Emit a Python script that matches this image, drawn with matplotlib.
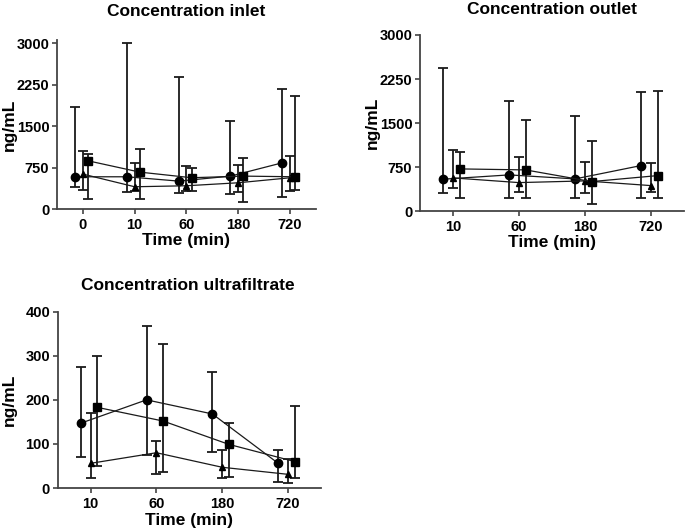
import numpy as np
import matplotlib
matplotlib.use("Agg")
import matplotlib.pyplot as plt

plt.rcParams['font.family'] = ['Liberation Sans', 'DejaVu Sans']
plt.rcParams['font.weight'] = 'bold'

# time points (min)
times_inlet = ["0", "10", "60", "180", "720"]
times_other = ["10", "60", "180", "720"]

# inlet: value, lower end, upper end of the bar
inlet_circle = [587, 587, 509, 599, 839]
inlet_circle_lo = [407, 317, 288, 270, 227]
inlet_circle_hi = [1847, 2994, 2381, 1589, 2165]
inlet_triangle = [635, 407, 425, 479, 569]
inlet_triangle_lo = [353, 330, 330, 306, 329]
inlet_triangle_hi = [1058, 828, 790, 797, 965]
inlet_square = [875, 671, 570, 599, 587]
inlet_square_lo = [194, 185, 330, 137, 347]
inlet_square_hi = [995, 1080, 740, 918, 2045]

# outlet
outlet_circle = [546, 619, 551, 778]
outlet_circle_lo = [307, 222, 222, 232]
outlet_circle_hi = [2438, 1869, 1613, 2029]
outlet_triangle = [568, 488, 517, 437]
outlet_triangle_lo = [392, 334, 310, 334]
outlet_triangle_hi = [1040, 931, 846, 818]
outlet_square = [721, 704, 505, 607]
outlet_square_lo = [222, 222, 119, 232]
outlet_square_hi = [1003, 1545, 1199, 2051]

# ultrafiltrate
ultra_circle = [147, 200, 168, 56]
ultra_circle_lo = [71, 75, 81, 14]
ultra_circle_hi = [275, 368, 264, 86]
ultra_triangle = [56, 80, 47, 31]
ultra_triangle_lo = [23, 31, 23, 11]
ultra_triangle_hi = [171, 107, 86, 65]
ultra_square = [183, 152, 99, 60]
ultra_square_lo = [51, 37, 25, 22]
ultra_square_hi = [300, 327, 147, 187]

W, H = 685, 529


def draw_series(ax, vals, lo, hi, marker, offset, ms):
    vals = np.array(vals, dtype=float)
    x = np.arange(len(vals)) + offset
    yerr = [vals - np.array(lo), np.array(hi) - vals]
    ax.errorbar(x, vals, yerr=yerr, fmt='none', ecolor='#1a1a1a',
                elinewidth=1.3, capsize=3.5, capthick=1.3, zorder=2)
    ax.plot(x, vals, color='#1a1a1a', linewidth=0.9, marker=marker,
            markersize=ms, markerfacecolor='black', markeredgecolor='black',
            zorder=3)


def style_axis(ax, labels, yticks, ymax, title, title_xy, xlab_y, ylab_x):
    ax.set_xlim(-0.5, len(labels) - 0.5)
    ax.set_ylim(0, ymax)
    ax.set_xticks(range(len(labels)))
    ax.set_xticklabels(labels)
    ax.set_yticks(yticks)
    for s in ['top', 'right']:
        ax.spines[s].set_visible(False)
    for s in ['left', 'bottom']:
        ax.spines[s].set_color('#444444')
        ax.spines[s].set_linewidth(1.3)
    ax.tick_params(axis='both', direction='out', length=3.5, width=1.2,
                   color='#444444', pad=2, labelsize=10.5)
    ax.tick_params(axis='x', pad=3)
    for t in ax.get_xticklabels() + ax.get_yticklabels():
        t.set_fontweight('bold')
    ax.set_xlabel("Time (min)", fontsize=12.5, fontweight='bold', va='center')
    ax.set_ylabel("ng/mL", fontsize=12.5, fontweight='bold', va='center')
    ax.xaxis.set_label_coords(0.5, xlab_y)
    ax.yaxis.set_label_coords(ylab_x, 0.5)
    fig.text(title_xy[0] / W, 1 - title_xy[1] / H, title, fontsize=12.5,
             fontweight='bold', ha='center', va='center')


fig = plt.figure(figsize=(6.85, 5.29), dpi=100)

ax1 = fig.add_axes([0.0832, 0.6043, 0.378, 0.3144 * 3050 / 3000])
draw_series(ax1, inlet_circle, inlet_circle_lo, inlet_circle_hi, 'o', -0.15, 6)
draw_series(ax1, inlet_triangle, inlet_triangle_lo, inlet_triangle_hi, '^', 0.0, 5)
draw_series(ax1, inlet_square, inlet_square_lo, inlet_square_hi, 's', 0.1, 5.5)
style_axis(ax1, times_inlet, [0, 750, 1500, 2250, 3000], 3050,
           "Concentration inlet", (186, 11), -0.185, -0.185)

ax2 = fig.add_axes([0.6131, 0.6006, 0.3854, 0.3333])
draw_series(ax2, outlet_circle, outlet_circle_lo, outlet_circle_hi, 'o', -0.15, 6)
draw_series(ax2, outlet_triangle, outlet_triangle_lo, outlet_triangle_hi, '^', 0.0, 5)
draw_series(ax2, outlet_square, outlet_square_lo, outlet_square_hi, 's', 0.1, 5.5)
style_axis(ax2, times_other, [0, 750, 1500, 2250, 3000], 3000,
           "Concentration outlet", (552, 9), -0.175, -0.18)

ax3 = fig.add_axes([0.0842, 0.0775, 0.3844, 0.3333])
draw_series(ax3, ultra_circle, ultra_circle_lo, ultra_circle_hi, 'o', -0.15, 6)
draw_series(ax3, ultra_triangle, ultra_triangle_lo, ultra_triangle_hi, '^', 0.0, 5)
draw_series(ax3, ultra_square, ultra_square_lo, ultra_square_hi, 's', 0.1, 5.5)
style_axis(ax3, times_other, [0, 100, 200, 300, 400], 400,
           "Concentration ultrafiltrate", (188, 286), -0.185, -0.185)

fig.savefig("out.png", dpi=100)
